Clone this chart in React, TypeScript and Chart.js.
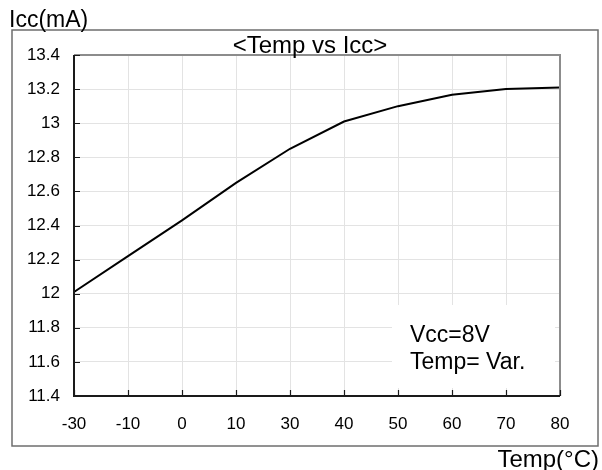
import React, { useEffect, useRef } from "react";
import { Chart, registerables } from "chart.js";

Chart.register(...registerables);

const temps = ["-30", "-10", "0", "10", "30", "40", "50", "60", "70", "80"];
const iccValues = [12.01, 12.22, 12.43, 12.65, 12.85, 13.01, 13.1, 13.167, 13.2, 13.21];
const yMin = 11.4;
const yMax = 13.4;
const yStep = 0.2;
const titleText = "<Temp vs Icc>";
const yAxisTitle = "Icc(mA)";
const xAxisTitle = "Temp(°C)";
const noteLines = ["Vcc=8V", "Temp= Var."];

const FONT = "'Liberation Sans', Arial, sans-serif";

const framePlugin = {
  id: "framePlugin",
  beforeDraw(chart: any) {
    const ctx = chart.ctx;
    ctx.save();
    ctx.fillStyle = "#ffffff";
    ctx.fillRect(0, 0, chart.width, chart.height);
    ctx.strokeStyle = "#6e6e6e";
    ctx.lineWidth = 1.5;
    ctx.strokeRect(12, 30, 586, 416);
    ctx.restore();
  },
  afterDraw(chart: any) {
    const ctx = chart.ctx;
    const a = chart.chartArea;
    const xs = chart.scales.x;
    const ys = chart.scales.y;
    ctx.save();
    // annotation box
    const bx = 392, by = 305, bw = 163, bh = 83;
    ctx.fillStyle = "#ffffff";
    ctx.fillRect(bx, by, bw, bh);
    ctx.fillStyle = "#000000";
    ctx.font = `23px ${FONT}`;
    ctx.textAlign = "left";
    ctx.textBaseline = "alphabetic";
    noteLines.forEach((t, i) => ctx.fillText(t, 410, 342 + i * 27));

    // frame: top & right gray
    ctx.strokeStyle = "#8c8c8c";
    ctx.lineWidth = 2;
    ctx.beginPath();
    ctx.moveTo(a.left, a.top);
    ctx.lineTo(a.right, a.top);
    ctx.lineTo(a.right, a.bottom);
    ctx.stroke();
    // left & bottom black
    ctx.strokeStyle = "#1a1a1a";
    ctx.beginPath();
    ctx.moveTo(a.left, a.top);
    ctx.lineTo(a.left, a.bottom);
    ctx.lineTo(a.right, a.bottom);
    ctx.stroke();
    // inward ticks
    ctx.lineWidth = 1.2;
    ctx.beginPath();
    xs.ticks.forEach((_: any, i: number) => {
      const px = Math.round(xs.getPixelForTick(i)) + 0.5;
      ctx.moveTo(px, a.bottom);
      ctx.lineTo(px, a.bottom - 6);
    });
    ys.ticks.forEach((_: any, i: number) => {
      const py = Math.round(ys.getPixelForTick(i)) + 0.5;
      ctx.moveTo(a.left, py);
      ctx.lineTo(a.left + 6, py);
    });
    ctx.stroke();

    // titles
    ctx.fillStyle = "#000000";
    ctx.font = `24px ${FONT}`;
    ctx.textAlign = "center";
    ctx.fillText(titleText, 310, 53);
    ctx.font = `23px ${FONT}`;
    ctx.textAlign = "left";
    ctx.fillText(yAxisTitle, 9, 27);
    ctx.font = `24px ${FONT}`;
    ctx.textAlign = "right";
    ctx.fillText(xAxisTitle, 599, 467);
    ctx.restore();
  },
};

export default function App() {
  const ref = useRef<HTMLCanvasElement | null>(null);
  useEffect(() => {
    if (!ref.current) return;
    const chart = new Chart(ref.current, {
      type: "line",
      data: {
        labels: temps,
        datasets: [
          {
            data: iccValues,
            borderColor: "#000000",
            borderWidth: 2,
            pointRadius: 0,
            tension: 0,
            fill: false,
          },
        ],
      },
      options: {
        responsive: false,
        animation: false,
        devicePixelRatio: 1,
        layout: { padding: { left: 12, right: 42, top: 55, bottom: 24 } },
        plugins: { legend: { display: false }, tooltip: { enabled: false }, title: { display: false } },
        scales: {
          x: {
            type: "category",
            offset: false,
            grid: { color: "#e3e3e3", lineWidth: 1, drawTicks: false },
            border: { display: false },
            ticks: { color: "#000", font: { family: FONT, size: 17 }, padding: 18, maxRotation: 0, autoSkip: false },
            afterFit: (s: any) => { s.height = 50; },
          },
          y: {
            min: yMin,
            max: yMax,
            grid: { color: "#e3e3e3", lineWidth: 1, drawTicks: false },
            border: { display: false },
            ticks: {
              stepSize: yStep,
              color: "#000",
              font: { family: FONT, size: 17 },
              padding: 14,
              callback: (v: any) => String(Math.round(Number(v) * 10) / 10),
            },
            afterFit: (s: any) => { s.width = 62; },
          },
        },
      },
      plugins: [framePlugin],
    });
    return () => chart.destroy();
  }, []);
  return (
    <div style={{ position: "absolute", left: 0, top: 0, width: 602, height: 470 }}>
      <canvas ref={ref} width={602} height={470} style={{ width: 602, height: 470 }} />
    </div>
  );
}
